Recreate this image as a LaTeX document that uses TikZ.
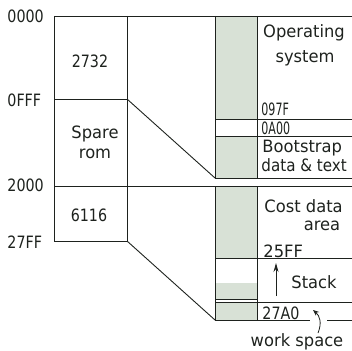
\documentclass[tikz,border=0pt]{standalone}
\usepackage{fontspec}
\setmainfont{DejaVu Sans}
\newfontfamily\narrowfont[FakeStretch=0.84]{DejaVu Sans}
\newfontfamily\tightfont[FakeStretch=0.65]{DejaVu Sans}
\newfontfamily\widefont[FakeStretch=0.96]{DejaVu Sans}
\newfontfamily\fitfont[FakeStretch=0.89]{DejaVu Sans}
\usetikzlibrary{arrows.meta}
\definecolor{shadecol}{RGB}{216,225,214}
\definecolor{ink}{RGB}{30,34,30}
\begin{document}
\begin{tikzpicture}[x=1pt,y=-1pt,line width=0.9pt,color=ink,
  txt/.style={font=\fontsize{17}{20}\widefont,inner sep=0pt,anchor=base},
  addr/.style={txt,font=\fontsize{17}{20}\narrowfont},
  tight/.style={txt,font=\fontsize{17}{20}\tightfont},
  fit text/.style={txt,font=\fontsize{17}{20}\fitfont}]
\useasboundingbox (0,0) rectangle (352,350);
% shaded cells
\fill[shadecol] (215,16) rectangle (257,119);
\fill[shadecol] (215,136) rectangle (257,178);
\fill[shadecol] (215,186) rectangle (257,258);
\fill[shadecol] (215,283) rectangle (257,299);
\fill[shadecol] (215,302) rectangle (257,320);
% left block
\draw (54,16) -- (352,16);
\draw (54,16) -- (54,241) -- (127,241);
\draw (127,16) -- (127,241);
\draw (54,99) -- (127,99);
\draw (54,186) -- (352,186);
\draw (127,99) -- (215,178);
\draw (127,241) -- (215,320);
% right block
\draw (215,16) -- (215,178) -- (352,178);
\draw (257,16) -- (257,178);
\draw (215,119) -- (352,119);
\draw (215,136) -- (352,136);
\draw (215,186) -- (215,320) -- (310,320);
\draw (327,320) -- (352,320);
\draw (257,186) -- (257,320);
\draw (215,258) -- (352,258);
\draw (215,299) -- (257,299);
\draw (215,302) -- (352,302);
% address labels
\node[addr,anchor=base west] (a0000) at (7,23) {0000};
\node[addr,anchor=base west] (a0fff) at (7,106) {0FFF};
\node[addr,anchor=base west] (a2000) at (7,191) {2000};
\node[addr,anchor=base west] (a27ff) at (7,248) {27FF};
% left texts
\node[addr] (c2732) at (90,67) {2732};
\node[txt] (spare) at (95,138) {Spare};
\node[txt] (rom) at (95,158) {rom};
\node[addr] (c6116) at (89,221) {6116};
% right texts
\node[txt] (os1) at (304,38) {Operating};
\node[txt] (os2) at (305,63) {system};
\node[tight,anchor=base west] (a097f) at (261,115) {097F};
\node[tight,anchor=base west] (a0a00) at (261,134) {0A00};
\node[txt,anchor=base west] (bs1) at (262,152) {Bootstrap};
\node[fit text,anchor=base west] (bs2) at (261,171) {data \& text};
\node[txt,anchor=base west] (cd1) at (264,212) {Cost data};
\node[txt] (cd2) at (322,230) {area};
\node[txt,anchor=base west] (a25ff) at (263,257) {25FF};
\node[txt,anchor=base west] (stack) at (291,288) {Stack};
\node[addr,anchor=base west] (a27a0) at (262,319) {27A0};
\node[txt] (ws) at (297,346) {work space};
% arrows
\coordinate (stB) at (276,296);
\coordinate (stT) at (276,263);
\draw[-{Stealth[length=9pt,width=5pt]}] (stB) -- (stT);
\coordinate (wsTail) at (318,333);
\coordinate (wsTip) at (313,310);
\draw[line width=0.8pt,-{Stealth[length=6pt,width=5pt]}] (wsTail) .. controls (322,323) and (320,316) .. (wsTip);
\end{tikzpicture}
\end{document}
